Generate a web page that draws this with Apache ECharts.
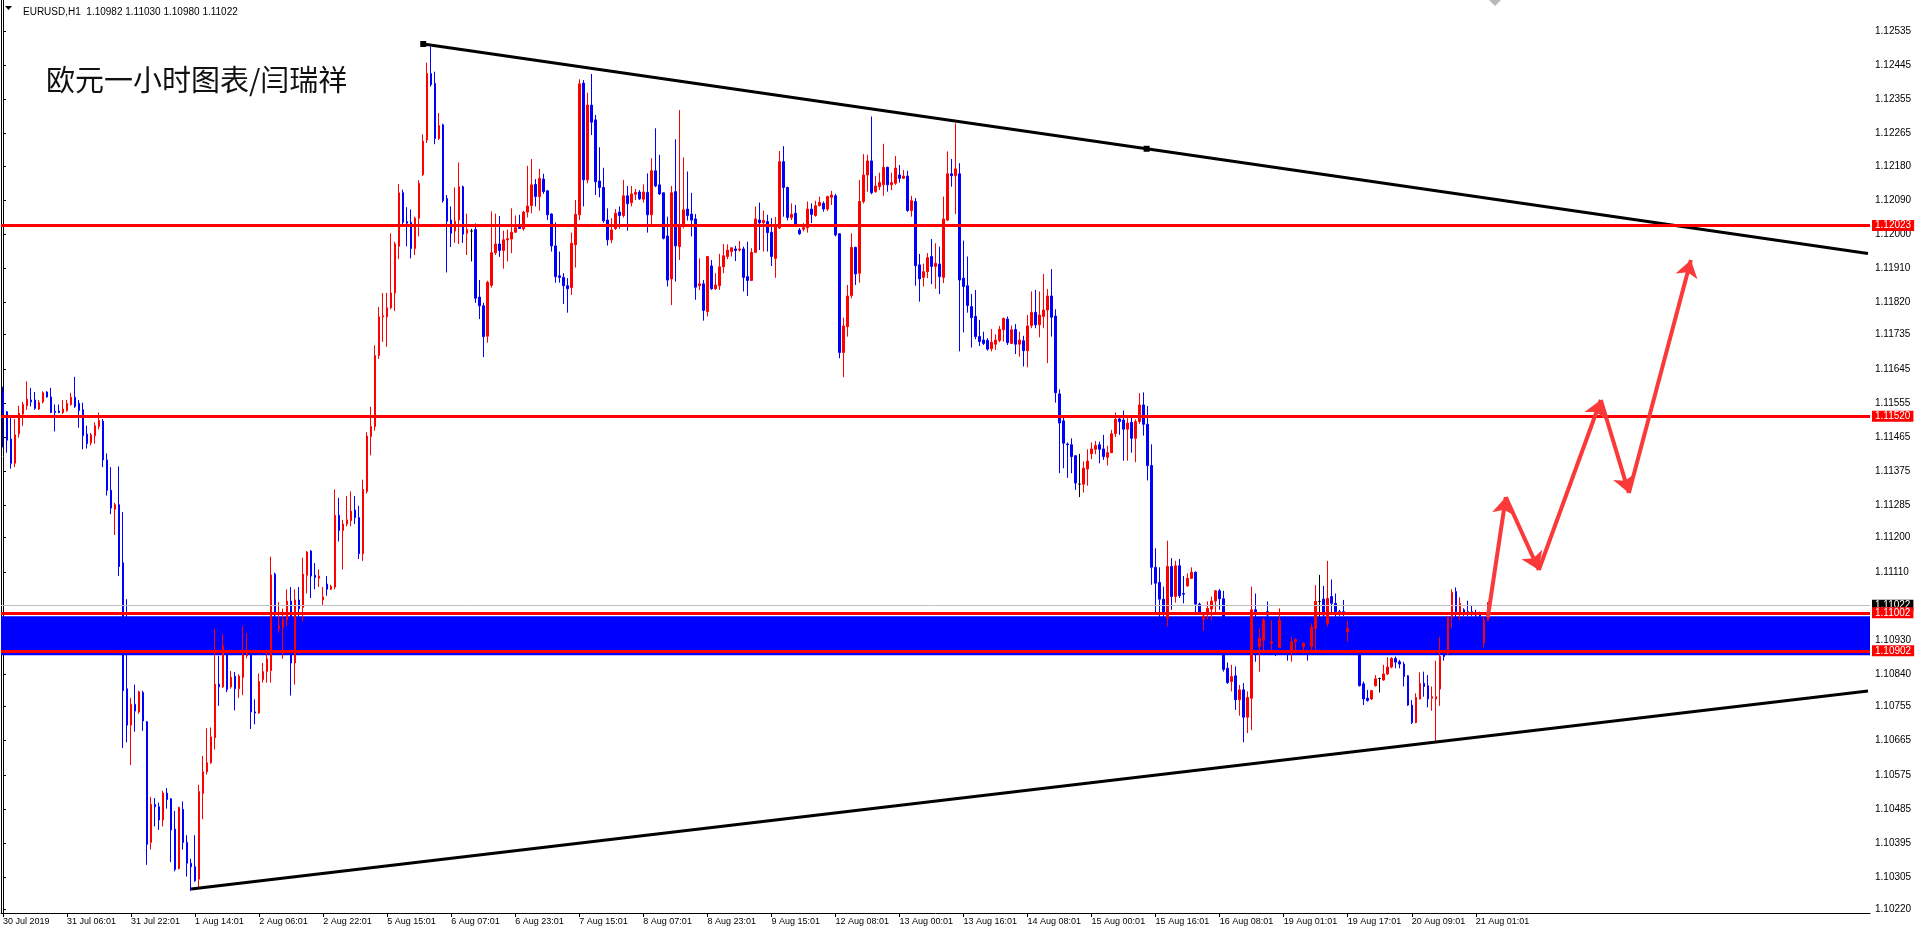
<!DOCTYPE html>
<html><head><meta charset="utf-8">
<script src="https://cdn.jsdelivr.net/npm/echarts@6/dist/echarts.min.js"></script>
<style>html,body{margin:0;padding:0;background:#fff;}#c{width:1918px;height:930px;}</style>
</head><body><div id="c"></div>
<script>
// ---- data ----
const tickLabels = ['30 Jul 2019','31 Jul 06:01','31 Jul 22:01','1 Aug 14:01','2 Aug 06:01','2 Aug 22:01','5 Aug 15:01','6 Aug 07:01','6 Aug 23:01','7 Aug 15:01','8 Aug 07:01','8 Aug 23:01','9 Aug 15:01','12 Aug 08:01','13 Aug 00:01','13 Aug 16:01','14 Aug 08:01','15 Aug 00:01','15 Aug 16:01','16 Aug 08:01','19 Aug 01:01','19 Aug 17:01','20 Aug 09:01','21 Aug 01:01'];
const priceTicks = [1.12535,1.12445,1.12355,1.12265,1.12180,1.12090,1.12000,1.11910,1.11820,1.11735,1.11645,1.11555,1.11465,1.11375,1.11285,1.11200,1.11110,1.10930,1.10840,1.10755,1.10665,1.10575,1.10485,1.10395,1.10305,1.10220];
const levels = [1.12023, 1.11520, 1.11002, 1.10902];
const currentPrice = 1.11022;
const zone = [1.10993, 1.10890];
const upperTrend = [[105, 1.12501], [285.75, 1.12225], [466, 1.11949]];
const lowerTrend = [[47, 1.10274], [466, 1.10796]];
const arrowPath = [[371, 1.10990], [375.5, 1.11307], [383.75, 1.11115], [399.25, 1.11563], [406.25, 1.11318], [421.75, 1.11932]];
// candles: [open, close, low, high]
const candles = [
[1.11584,1.11528,1.11438,1.11598],[1.11532,1.11457,1.11424,1.11534],[1.11460,1.11396,1.11382,1.11516],[1.11396,1.11471,1.11386,1.11513],
[1.11474,1.11528,1.11464,1.11548],[1.11526,1.11551,1.11495,1.11558],[1.11548,1.11565,1.11537,1.11612],[1.11563,1.11558,1.11546,1.11595],
[1.11563,1.11541,1.11537,1.11584],[1.11539,1.11556,1.11537,1.11563],[1.11558,1.11582,1.11554,1.11586],[1.11584,1.11571,1.11569,1.11586],
[1.11571,1.11530,1.11528,1.11595],[1.11533,1.11530,1.11480,1.11551],[1.11534,1.11530,1.11528,1.11551],[1.11530,1.11539,1.11526,1.11563],
[1.11535,1.11554,1.11532,1.11563],[1.11551,1.11570,1.11548,1.11582],[1.11570,1.11546,1.11542,1.11624],[1.11554,1.11535,1.11490,1.11563],
[1.11537,1.11469,1.11433,1.11556],[1.11473,1.11448,1.11435,1.11495],[1.11450,1.11471,1.11443,1.11476],[1.11469,1.11495,1.11448,1.11504],
[1.11493,1.11509,1.11485,1.11530],[1.11507,1.11405,1.11386,1.11513],[1.11405,1.11325,1.11311,1.11422],[1.11325,1.11278,1.11262,1.11386],
[1.11275,1.11287,1.11207,1.11292],[1.11287,1.11124,1.11099,1.11388],[1.11134,1.10797,1.10646,1.11268],[1.10802,1.10706,1.10661,1.11038],
[1.10706,1.10761,1.10601,1.10778],[1.10761,1.10743,1.10689,1.10813],[1.10741,1.10794,1.10736,1.10797],[1.10792,1.10717,1.10691,1.10797],
[1.10715,1.10392,1.10338,1.10717],[1.10397,1.10497,1.10378,1.10517],[1.10497,1.10491,1.10439,1.10514],[1.10491,1.10456,1.10430,1.10502],
[1.10456,1.10527,1.10439,1.10533],[1.10527,1.10510,1.10486,1.10540],[1.10512,1.10430,1.10345,1.10514],[1.10432,1.10326,1.10321,1.10480],
[1.10328,1.10489,1.10326,1.10491],[1.10484,1.10397,1.10378,1.10505],[1.10397,1.10342,1.10307,1.10416],[1.10342,1.10333,1.10269,1.10354],
[1.10333,1.10296,1.10293,1.10416],[1.10300,1.10531,1.10276,1.10549],[1.10526,1.10583,1.10458,1.10625],[1.10583,1.10607,1.10576,1.10698],
[1.10607,1.10675,1.10604,1.10700],[1.10673,1.10814,1.10642,1.10960],[1.10814,1.10807,1.10757,1.10889],[1.10807,1.10915,1.10804,1.10946],
[1.10915,1.10800,1.10793,1.10924],[1.10807,1.10832,1.10802,1.10849],[1.10835,1.10802,1.10745,1.10846],[1.10802,1.10835,1.10778,1.10840],
[1.10832,1.10891,1.10785,1.10967],[1.10889,1.10894,1.10882,1.10948],[1.10891,1.10741,1.10696,1.10896],[1.10741,1.10738,1.10708,1.10774],
[1.10738,1.10821,1.10736,1.10842],[1.10826,1.10847,1.10818,1.10870],[1.10847,1.10881,1.10818,1.10898],[1.10850,1.11102,1.10818,1.11150],
[1.11104,1.10996,1.10967,1.11108],[1.10961,1.10967,1.10950,1.11030],[1.10964,1.10984,1.10881,1.11013],[1.10984,1.11033,1.10967,1.11064],
[1.11033,1.10870,1.10784,1.11070],[1.10870,1.11036,1.10813,1.11064],[1.11036,1.11013,1.10990,1.11070],[1.11016,1.11104,1.10979,1.11147],
[1.11101,1.11162,1.11053,1.11165],[1.11165,1.11099,1.11041,1.11167],[1.11101,1.11095,1.11064,1.11133],[1.11093,1.11099,1.11070,1.11116],
[1.11036,1.11044,1.11021,1.11070],[1.11078,1.11064,1.11047,1.11099],[1.11064,1.11072,1.11062,1.11076],[1.11070,1.11259,1.11064,1.11327],
[1.11259,1.11219,1.11190,1.11305],[1.11219,1.11236,1.11116,1.11247],[1.11236,1.11247,1.11230,1.11310],[1.11245,1.11270,1.11230,1.11322],
[1.11273,1.11253,1.11236,1.11310],[1.11253,1.11158,1.11144,1.11284],[1.11158,1.11327,1.11139,1.11353],[1.11322,1.11468,1.11316,1.11478],
[1.11467,1.11493,1.11417,1.11545],[1.11493,1.11680,1.11482,1.11707],[1.11680,1.11782,1.11671,1.11808],[1.11782,1.11785,1.11716,1.11845],
[1.11782,1.11806,1.11703,1.11845],[1.11806,1.11845,1.11802,1.12002],[1.11845,1.11974,1.11797,1.11980],[1.11968,1.12109,1.11934,1.12132],
[1.12109,1.12031,1.12025,1.12117],[1.12033,1.12029,1.11968,1.12071],[1.12031,1.11962,1.11936,1.12065],[1.11962,1.12042,1.11945,1.12046],
[1.12042,1.12134,1.11994,1.12142],[1.12157,1.12245,1.12153,1.12263],[1.12248,1.12423,1.12240,1.12452],[1.12423,1.12394,1.12389,1.12494],
[1.12397,1.12252,1.12237,1.12428],[1.12252,1.12286,1.12248,1.12319],[1.12288,1.12088,1.12083,1.12291],[1.12094,1.12034,1.11899,1.12103],
[1.12037,1.12002,1.11966,1.12073],[1.12008,1.12034,1.11977,1.12123],[1.12037,1.12125,1.11974,1.12189],[1.12125,1.12000,1.11977,1.12128],
[1.12002,1.12012,1.11945,1.12054],[1.12008,1.12008,1.11928,1.12014],[1.12012,1.11831,1.11819,1.12028],[1.11834,1.11811,1.11776,1.11879],
[1.11811,1.11730,1.11676,1.11819],[1.11731,1.11873,1.11714,1.11877],[1.11865,1.11951,1.11859,1.12060],[1.11951,1.11974,1.11945,1.12054],
[1.11974,1.11957,1.11940,1.12048],[1.11957,1.11985,1.11909,1.12009],[1.11985,1.11988,1.11928,1.12012],[1.11987,1.12005,1.11950,1.12068],
[1.12005,1.12017,1.12004,1.12049],[1.12020,1.12015,1.12015,1.12051],[1.12014,1.12058,1.12009,1.12061],[1.12058,1.12074,1.12044,1.12180],
[1.12075,1.12130,1.12055,1.12198],[1.12131,1.12099,1.12073,1.12145],[1.12099,1.12147,1.12062,1.12172],[1.12145,1.12112,1.12106,1.12159],
[1.12114,1.12051,1.12037,1.12116],[1.12053,1.11969,1.11954,1.12055],[1.11969,1.11888,1.11872,1.12031],[1.11890,1.11886,1.11872,1.11954],
[1.11886,1.11864,1.11816,1.11897],[1.11864,1.11856,1.11793,1.11884],[1.11859,1.11976,1.11840,1.12004],[1.11972,1.12052,1.11912,1.12090],
[1.12051,1.12396,1.12037,1.12408],[1.12398,1.12143,1.12073,1.12406],[1.12143,1.12340,1.12134,1.12373],[1.12340,1.12295,1.12261,1.12422],
[1.12301,1.12138,1.12103,1.12314],[1.12140,1.12123,1.12097,1.12229],[1.12123,1.12035,1.12030,1.12175],[1.12037,1.11985,1.11970,1.12068],
[1.11985,1.12011,1.11976,1.12042],[1.12015,1.12055,1.12011,1.12066],[1.12058,1.12049,1.12015,1.12073],[1.12049,1.12101,1.12044,1.12143],
[1.12101,1.12080,1.12009,1.12127],[1.12083,1.12106,1.12073,1.12127],[1.12105,1.12110,1.12090,1.12119],[1.12111,1.12093,1.12090,1.12116],
[1.12092,1.12111,1.12083,1.12131],[1.12110,1.12051,1.12004,1.12160],[1.12051,1.12167,1.12024,1.12200],[1.12167,1.12127,1.12124,1.12279],
[1.12130,1.12106,1.12103,1.12209],[1.12109,1.11989,1.11986,1.12109],[1.11995,1.11879,1.11862,1.12046],[1.11882,1.12109,1.11813,1.12127],
[1.12112,1.11969,1.11875,1.12250],[1.11967,1.12024,1.11932,1.12327],[1.12024,1.12064,1.12015,1.12202],[1.12066,1.12049,1.12036,1.12165],
[1.12053,1.12037,1.11994,1.12109],[1.12040,1.11860,1.11827,1.12053],[1.11864,1.11869,1.11853,1.11936],[1.11869,1.11799,1.11772,1.11879],
[1.11796,1.11941,1.11783,1.11941],[1.11916,1.11856,1.11853,1.11932],[1.11856,1.11866,1.11853,1.11897],[1.11864,1.11914,1.11853,1.11948],
[1.11914,1.11943,1.11897,1.11974],[1.11941,1.11958,1.11934,1.11973],[1.11954,1.11964,1.11941,1.11965],[1.11961,1.11957,1.11929,1.11969],
[1.11958,1.11961,1.11954,1.11982],[1.11961,1.11886,1.11849,1.11967],[1.11888,1.11878,1.11837,1.11980],[1.11878,1.11952,1.11877,1.11963],
[1.11952,1.12040,1.11950,1.12073],[1.12037,1.12030,1.11958,1.12083],[1.12030,1.12036,1.11954,1.12062],[1.12033,1.12004,1.11954,1.12051],
[1.12005,1.11941,1.11916,1.12042],[1.11936,1.12020,1.11885,1.12045],[1.12016,1.12191,1.12013,1.12219],[1.12191,1.12123,1.12046,1.12232],
[1.12123,1.12044,1.12036,1.12125],[1.12044,1.12052,1.12037,1.12081],[1.12055,1.12027,1.12026,1.12077],[1.12011,1.12001,1.11998,1.12016],
[1.12013,1.12017,1.12007,1.12029],[1.12017,1.12066,1.12004,1.12086],[1.12066,1.12052,1.12029,1.12081],[1.12049,1.12075,1.12046,1.12088],
[1.12075,1.12084,1.12073,1.12099],[1.12081,1.12066,1.12059,1.12086],[1.12066,1.12099,1.12061,1.12101],[1.12097,1.12103,1.12077,1.12114],
[1.12101,1.11998,1.11994,1.12106],[1.12001,1.11688,1.11673,1.12002],[1.11688,1.11758,1.11623,1.11780],[1.11756,1.11837,1.11730,1.11866],
[1.11838,1.11965,1.11831,1.12002],[1.11965,1.11895,1.11866,1.11967],[1.11897,1.12086,1.11872,1.12143],[1.12086,1.12156,1.12081,1.12211],
[1.12156,1.12193,1.12112,1.12209],[1.12193,1.12109,1.12105,1.12310],[1.12112,1.12127,1.12109,1.12153],[1.12125,1.12136,1.12116,1.12162],
[1.12130,1.12176,1.12101,1.12238],[1.12176,1.12130,1.12112,1.12178],[1.12130,1.12136,1.12116,1.12162],[1.12134,1.12174,1.12130,1.12206],
[1.12156,1.12147,1.12136,1.12182],[1.12147,1.12153,1.12145,1.12169],[1.12153,1.12062,1.12059,1.12167],[1.12062,1.12088,1.12046,1.12101],
[1.12086,1.11917,1.11864,1.12095],[1.11919,1.11882,1.11822,1.11948],[1.11886,1.11901,1.11862,1.11922],[1.11901,1.11938,1.11884,1.11950],
[1.11941,1.11915,1.11868,1.11987],[1.11915,1.11923,1.11856,1.11976],[1.11921,1.11888,1.11842,1.11967],[1.11886,1.12040,1.11871,1.12099],
[1.12037,1.12159,1.12035,1.12218],[1.12159,1.12154,1.12125,1.12198],[1.12154,1.12172,1.12053,1.12292],[1.12159,1.11879,1.11691,1.12187],
[1.11884,1.11862,1.11741,1.11983],[1.11864,1.11812,1.11793,1.11941],[1.11809,1.11780,1.11701,1.11842],[1.11783,1.11730,1.11723,1.11853],
[1.11730,1.11717,1.11705,1.11774],[1.11721,1.11712,1.11708,1.11743],[1.11720,1.11697,1.11693,1.11726],[1.11698,1.11715,1.11691,1.11750],
[1.11710,1.11721,1.11695,1.11736],[1.11720,1.11749,1.11715,1.11758],[1.11748,1.11778,1.11717,1.11780],[1.11776,1.11714,1.11708,1.11783],
[1.11712,1.11748,1.11711,1.11759],[1.11749,1.11710,1.11684,1.11763],[1.11710,1.11721,1.11677,1.11743],[1.11719,1.11693,1.11651,1.11732],
[1.11693,1.11758,1.11649,1.11787],[1.11759,1.11794,1.11752,1.11849],[1.11794,1.11761,1.11752,1.11853],[1.11761,1.11787,1.11728,1.11849],
[1.11783,1.11800,1.11752,1.11895],[1.11800,1.11837,1.11660,1.11855],[1.11837,1.11781,1.11730,1.11908],[1.11784,1.11582,1.11556,1.11802],
[1.11579,1.11502,1.11370,1.11591],[1.11508,1.11449,1.11383,1.11519],[1.11447,1.11445,1.11358,1.11451],[1.11445,1.11414,1.11370,1.11462],
[1.11416,1.11344,1.11326,1.11418],[1.11341,1.11341,1.11307,1.11421],[1.11341,1.11383,1.11319,1.11401],[1.11381,1.11402,1.11337,1.11433],
[1.11421,1.11434,1.11407,1.11451],[1.11433,1.11443,1.11420,1.11455],[1.11445,1.11433,1.11396,1.11453],[1.11434,1.11414,1.11405,1.11471],
[1.11412,1.11424,1.11390,1.11442],[1.11424,1.11474,1.11423,1.11484],[1.11474,1.11512,1.11465,1.11530],[1.11513,1.11506,1.11471,1.11519],
[1.11510,1.11486,1.11403,1.11535],[1.11486,1.11502,1.11403,1.11515],[1.11504,1.11462,1.11424,1.11517],[1.11462,1.11506,1.11399,1.11512],
[1.11506,1.11550,1.11500,1.11581],[1.11550,1.11499,1.11469,1.11583],[1.11499,1.11390,1.11351,1.11547],[1.11390,1.11122,1.11076,1.11446],
[1.11122,1.11080,1.10997,1.11172],[1.11082,1.11038,1.10988,1.11122],[1.11038,1.11001,1.10982,1.11071],[1.10988,1.11124,1.10966,1.11192],
[1.11124,1.11045,1.11010,1.11146],[1.11045,1.11126,1.11029,1.11139],[1.11126,1.11047,1.11041,1.11144],[1.11053,1.11051,1.11027,1.11099],
[1.11073,1.11093,1.11071,1.11106],[1.11093,1.11109,1.11091,1.11122],[1.11109,1.11025,1.10997,1.11111],[1.11025,1.11001,1.10997,1.11029],
[1.10985,1.10994,1.10955,1.11001],[1.11001,1.11014,1.10985,1.11032],[1.11012,1.11033,1.10982,1.11045],[1.11033,1.11060,1.11001,1.11062],
[1.11060,1.11039,1.11010,1.11065],[1.11039,1.10853,1.10847,1.11060],[1.10856,1.10818,1.10815,1.10871],[1.10821,1.10834,1.10795,1.10865],
[1.10836,1.10773,1.10746,1.10861],[1.10773,1.10799,1.10731,1.10812],[1.10799,1.10727,1.10661,1.10817],[1.10727,1.10779,1.10685,1.10795],
[1.10777,1.11010,1.10693,1.11071],[1.11010,1.11005,1.10873,1.11053],[1.10913,1.10935,1.10847,1.10961],[1.10930,1.10983,1.10904,1.10988],
[1.11005,1.10996,1.10895,1.11032],[1.10922,1.10926,1.10904,1.10983],[1.10922,1.10913,1.10888,1.10930],[1.10911,1.10983,1.10909,1.11014],
[1.10930,1.10922,1.10913,1.10939],[1.10922,1.10904,1.10876,1.10930],[1.10900,1.10926,1.10873,1.10938],[1.10926,1.10932,1.10895,1.10935],
[1.10930,1.10922,1.10900,1.10935],[1.10913,1.10922,1.10895,1.10924],[1.10922,1.10909,1.10876,1.10930],[1.10913,1.10964,1.10900,1.10974],
[1.10961,1.11032,1.10904,1.11075],[1.11032,1.11032,1.10992,1.11102],[1.11038,1.10996,1.10974,1.11073],[1.10974,1.11040,1.10966,1.11139],
[1.11045,1.11027,1.10996,1.11090],[1.11027,1.11005,1.10992,1.11053],[1.11005,1.11001,1.10994,1.11010],[1.11005,1.11001,1.10994,1.11036],
[1.10952,1.10961,1.10926,1.10981],[1.10966,1.10930,1.10913,1.10974],[1.10930,1.10922,1.10904,1.10939],[1.10895,1.10810,1.10808,1.10904],
[1.10815,1.10775,1.10759,1.10821],[1.10777,1.10771,1.10768,1.10799],[1.10775,1.10797,1.10772,1.10799],[1.10810,1.10828,1.10808,1.10838],
[1.10829,1.10829,1.10792,1.10831],[1.10825,1.10841,1.10823,1.10865],[1.10841,1.10859,1.10838,1.10885],[1.10859,1.10882,1.10856,1.10885],
[1.10882,1.10872,1.10856,1.10887],[1.10873,1.10867,1.10856,1.10878],[1.10867,1.10834,1.10808,1.10873],[1.10836,1.10759,1.10757,1.10838],
[1.10759,1.10713,1.10709,1.10772],[1.10713,1.10779,1.10711,1.10790],[1.10775,1.10816,1.10774,1.10845],[1.10816,1.10808,1.10781,1.10847],
[1.10810,1.10775,1.10753,1.10838],[1.10777,1.10781,1.10744,1.10808],[1.10775,1.10781,1.10663,1.10876],[1.10801,1.10887,1.10757,1.10939],
[1.10891,1.10887,1.10876,1.10904],[1.10895,1.10990,1.10891,1.10994],[1.10990,1.11056,1.10961,1.11064],[1.11058,1.11005,1.10988,1.11069],
[1.11003,1.11027,1.10983,1.11043],[1.11010,1.11001,1.10994,1.11014],[1.11005,1.11001,1.10994,1.11034],[1.11005,1.11001,1.10994,1.11021],
[1.11001,1.10996,1.10988,1.11010],[1.10996,1.10994,1.10983,1.11005],[1.10922,1.10983,1.10911,1.10992],[1.10982,1.11022,1.10980,1.11030]
];
const headerText = 'EURUSD,H1  1.10982 1.11030 1.10980 1.11022';
const titleText = '欧元一小时图表/闫瑞祥';

// ---- chart ----
const N = 467; // visible bar slots incl. right shift
const cats = Array.from({length: N}, (_, i) => String(i));
const showTick = (idx) => idx % 16 === 0 && idx / 16 < tickLabels.length;

const ohlc = candles.map(c => [c[0], c[1], c[2], c[3]]);
const arrowSegs = [];
for (let k = 0; k < arrowPath.length - 1; k++) arrowSegs.push({coords: [arrowPath[k], arrowPath[k + 1]]});

const lvlLabel = (bg) => ({show: true, position: 'end', distance: 2, formatter: p => Number(p.value).toFixed(5),
  color: '#fff', backgroundColor: bg, padding: [1, 3, 0, 3], fontSize: 10, fontFamily: 'Liberation Sans'});

const chart = echarts.init(document.getElementById('c'), null, {renderer: 'canvas'});
chart.setOption({
  animation: false,
  backgroundColor: '#fff',
  title: [
    {text: titleText, left: 41, top: 60, textStyle: {fontSize: 29, fontWeight: 'normal', color: '#111', fontFamily: 'Noto Sans CJK SC'}},
    {text: headerText, left: 18, top: 2, textStyle: {fontSize: 10, fontWeight: 'normal', color: '#000', fontFamily: 'Liberation Sans'}}
  ],
  grid: {left: 1, right: 48, top: 0, bottom: 17, containLabel: false, outerBoundsMode: 'none'},
  xAxis: [{
    type: 'category', data: cats, boundaryGap: true,
    axisLine: {show: true, lineStyle: {color: '#000', width: 1}},
    axisTick: {show: true, alignWithLabel: true, interval: showTick, length: 4, lineStyle: {color: '#000'}},
    axisLabel: {show: true, interval: showTick, align: 'left', margin: 4, fontSize: 9, color: '#000', fontFamily: 'Liberation Sans',
      formatter: (v) => { const i = +v; return (i % 16 === 0 && tickLabels[i / 16]) ? tickLabels[i / 16] : ''; }},
    splitLine: {show: false}
  }, {
    type: 'value', min: -0.5, max: N - 0.5, show: false
  }],
  yAxis: [{
    type: 'value', position: 'right', min: 1.10211, max: 1.12617, scale: true,
    axisLine: {show: true, lineStyle: {color: '#000', width: 1}},
    axisTick: {show: true, customValues: priceTicks, length: 3, lineStyle: {color: '#000'}},
    axisLabel: {show: true, customValues: priceTicks, formatter: v => v.toFixed(5), margin: 5, fontSize: 10, color: '#000', fontFamily: 'Liberation Sans'},
    splitLine: {show: false}
  }],
  graphic: [
    {type: 'line', shape: {x1: 1.5, y1: 0, x2: 1.5, y2: 913}, style: {stroke: '#000', lineWidth: 1}, silent: true},
    {type: 'polygon', shape: {points: [[5, 6], [12, 6], [8.5, 10]]}, style: {fill: '#000'}, silent: true},
    {type: 'polygon', shape: {points: [[1489, 0], [1501, 0], [1495, 6]]}, style: {fill: '#b8b8b8'}, silent: true}
  ],
  series: [
    {type: 'line', name: 'zone', data: [], z: 1, silent: true,
      markArea: {silent: true, precision: 5, itemStyle: {color: '#0000ff', opacity: 1}, data: [[{yAxis: zone[0]}, {yAxis: zone[1]}]]}},
    {type: 'candlestick', name: 'EURUSD', data: ohlc, z: 2, barWidth: 2, silent: true,
      itemStyle: {color: '#ff0000', color0: '#0000ff', borderColor: '#ff0000', borderColor0: '#0000ff', borderColorDoji: '#000000', borderWidth: 1}},
    {type: 'line', name: 'levels', data: [], z: 3, silent: true,
      markLine: {silent: true, symbol: 'none', precision: 5, animation: false, data: [
        {yAxis: currentPrice, lineStyle: {color: '#c0c0c0', width: 1, type: 'solid'}, label: lvlLabel('#000')},
        ...levels.map(v => ({yAxis: v, lineStyle: {color: '#ff0000', width: 3, type: 'solid'}, label: lvlLabel('#ff0000')}))
      ]}},
    {type: 'line', name: 'upper', xAxisIndex: 1, z: 4, silent: true, data: upperTrend.map((p, k) => ({value: p, symbol: k < 2 ? 'rect' : 'none', symbolSize: 6})),
      showSymbol: true, lineStyle: {color: '#000', width: 3}, itemStyle: {color: '#000'}},
    {type: 'line', name: 'lower', xAxisIndex: 1, z: 4, silent: true, data: lowerTrend, symbol: 'none', lineStyle: {color: '#000', width: 3}},
    {type: 'lines', name: 'arrows', coordinateSystem: 'cartesian2d', xAxisIndex: 1, yAxisIndex: 0, z: 5, silent: true,
      symbol: ['none', 'arrow'], symbolSize: [1, 17], lineStyle: {color: '#fa3a3a', width: 4, opacity: 1}, data: arrowSegs}
  ]
});
</script></body></html>
